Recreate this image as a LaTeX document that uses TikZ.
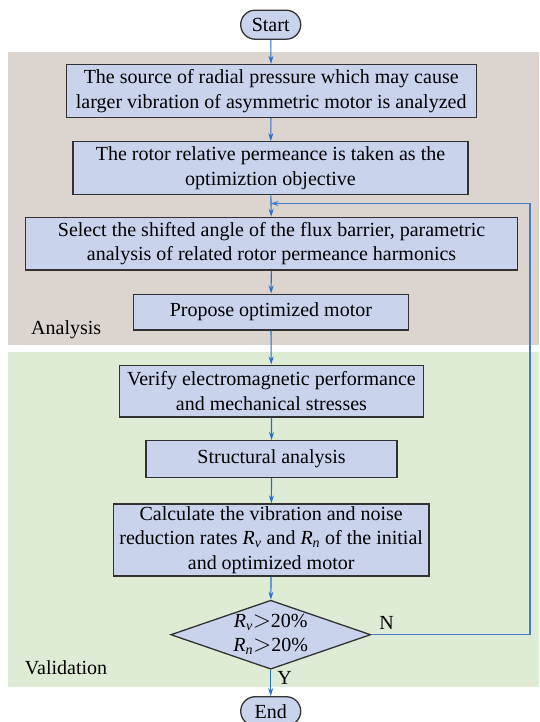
\documentclass[tikz,border=0pt]{standalone}
\usepackage{fontspec}
\setmainfont{Liberation Serif}
\usetikzlibrary{shapes.geometric,arrows.meta}
\definecolor{anabg}{RGB}{220,212,207}
\definecolor{valbg}{RGB}{222,236,213}
\definecolor{boxfill}{RGB}{201,211,236}
\definecolor{boxline}{RGB}{50,50,50}
\definecolor{arrowblue}{RGB}{40,110,200}
\definecolor{fbblue}{RGB}{70,125,200}
\newcommand{\gtsym}{\scalebox{1.15}{\(\mathord{>}\)}}
\tikzset{
  procbox/.style={draw=boxline, line width=1.3pt, fill=boxfill, inner sep=0pt, align=center, font=\fontsize{20}{24.5}\selectfont},
  termbox/.style={draw=boxline, line width=1.3pt, fill=boxfill, inner sep=0pt, rounded corners=14.5pt, minimum width=60pt, minimum height=29pt, font=\fontsize{20}{24}\selectfont},
  decbox/.style={diamond, draw=boxline, line width=1.3pt, fill=boxfill, inner sep=-3pt, shape aspect=2.9, minimum width=200pt, minimum height=69pt, align=center, font=\fontsize{20}{24}\selectfont},
  flow/.style={draw=arrowblue, line width=1.1pt, -{Stealth[length=8pt,width=5pt]}},
  fbflow/.style={draw=fbblue, line width=1.5pt, -{Stealth[length=8pt,width=5pt]}},
  lbl/.style={font=\fontsize{20}{24}\selectfont, inner sep=0pt},
}
\begin{document}
\begin{tikzpicture}[x=1pt,y=-1pt]
\useasboundingbox (0,0) rectangle (539,722);
\fill[anabg] (8,52) rectangle (539,345);
\fill[valbg] (8,352) rectangle (539,687);

\node[termbox] (start) at (270.7,24.7) {Start};
\node[procbox, minimum width=410pt, minimum height=53pt] (b1) at (271.2,91) {The source of radial pressure which may cause\\larger vibration of asymmetric motor is analyzed};
\node[procbox, minimum width=395pt, minimum height=53pt] (b2) at (270.5,168.3) {The rotor relative permeance is taken as the\\optimiztion objective};
\node[procbox, minimum width=491.6pt, minimum height=52.7pt] (b3) at (271.6,243.7) {Select the shifted angle of the flux barrier, parametric\\analysis of related rotor permeance harmonics};
\node[procbox, minimum width=275pt, minimum height=35.7pt] (b4) at (270.9,312) {Propose optimized motor};
\node[procbox, minimum width=304pt, minimum height=51.7pt] (b5) at (271.4,391) {Verify electromagnetic performance\\and mechanical stresses};
\node[procbox, minimum width=251pt, minimum height=36.7pt] (b6) at (271.6,459) {Structural analysis};
\node[procbox, minimum width=315.6pt, minimum height=72pt] (b7) at (271.2,540) {Calculate the vibration and noise\\reduction rates \textit{R}\textsubscript{\textit{v}} and \textit{R}\textsubscript{\textit{n}} of the initial\\and optimized motor};
\node[decbox] (dia) at (270.7,634.7) {\textit{R}\textsubscript{\textit{v}}\gtsym20\%\\\textit{R}\textsubscript{\textit{n}}\gtsym20\%};
\node[termbox] (end) at (270.7,711.2) {End};

\node[lbl, anchor=west] (ana) at (31,330) {Analysis};
\node[lbl, anchor=west] (val) at (24.7,668) {Validation};
\node[lbl] (nlab) at (386.7,623) {N};
\node[lbl] (ylab) at (284.6,678) {Y};

\coordinate (fbc) at (530,203.5);
\coordinate (join) at (b2.south |- fbc);

\draw[flow] (start) -- (b1);
\draw[flow] (b1) -- (b2);
\draw[flow] (b2) -- (b3);
\draw[flow] (b3) -- (b4);
\draw[flow] (b4) -- (b5);
\draw[flow] (b5) -- (b6);
\draw[flow] (b6) -- (b7);
\draw[flow] (b7) -- (dia);
\draw[flow] (dia) -- (end);
\draw[fbflow] (dia.east) -| (fbc) -- (join);
\end{tikzpicture}
\end{document}
